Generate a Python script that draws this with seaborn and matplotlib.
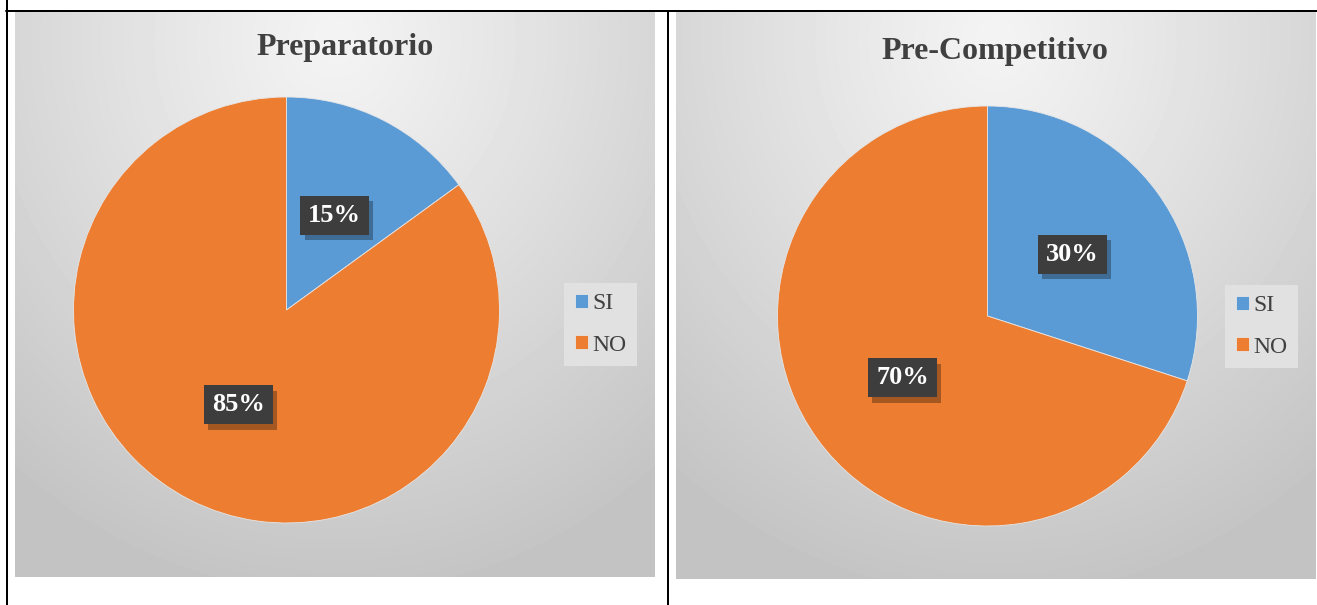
import numpy as np
import matplotlib
matplotlib.use("Agg")
import matplotlib.pyplot as plt
import seaborn as sns
from matplotlib import patheffects
from matplotlib.lines import Line2D

# Data
categories = ["SI", "NO"]
preparatorio = [15, 85]
pre_competitivo = [30, 70]
panel_titles = ["Preparatorio", "Pre-Competitivo"]

sns.set_theme(style="white")
plt.rcParams["font.family"] = ["Liberation Serif", "DejaVu Serif"]
colors = sns.color_palette(["#5B9BD5", "#ED7D31"])

W, H = 1317, 605
fig = plt.figure(figsize=(W / 100, H / 100), dpi=100)
fig.patch.set_facecolor("white")


def px_axes(x0, y0, x1, y1, **kw):
    """Axes placed by pixel box (origin at top-left of the figure)."""
    return fig.add_axes([x0 / W, 1 - y1 / H, (x1 - x0) / W, (y1 - y0) / H], **kw)


def fig_xy(x, y):
    return x / W, 1 - y / H


def gradient(w, h):
    yy, xx = np.mgrid[0:1:h * 1j, 0:1:w * 1j]
    t = np.sqrt(((xx - 0.5) / 0.8) ** 2 + ((yy - 0.05) / 1.0) ** 2)
    t = np.clip(t, 0, 1) ** 1.1
    light, dark = 0.955, 0.765
    return light + (dark - light) * t


panels = [
    dict(box=(15, 12, 655, 577), center=(286.5, 310), r=213,
         title_xy=(345, 47), legend_xy=(600.5, 324.5),
         values=preparatorio, title=panel_titles[0]),
    dict(box=(676, 12, 1316, 579), center=(987.5, 316), r=210,
         title_xy=(995, 51), legend_xy=(1261.5, 326.5),
         values=pre_competitivo, title=panel_titles[1]),
]

for p in panels:
    x0, y0, x1, y1 = p["box"]
    bg = px_axes(x0, y0, x1, y1)
    bg.imshow(gradient(x1 - x0, y1 - y0), cmap="gray", vmin=0, vmax=1,
              extent=(0, 1, 0, 1), aspect="auto", interpolation="bilinear")
    bg.set_axis_off()

    # chart title
    tx, ty = fig_xy(*p["title_xy"])
    fig.text(tx, ty, p["title"], ha="center", va="center",
             fontsize=23, fontweight="bold", color="#404040")

    cx, cy = p["center"]
    r = p["r"]
    ax = px_axes(cx - r, cy - r, cx + r, cy + r)
    wedges, texts, autotexts = ax.pie(
        p["values"], colors=colors, startangle=90, counterclock=False,
        autopct="%.0f%%", pctdistance=0.5,
        wedgeprops=dict(linewidth=0.6, edgecolor="#e6e6e6"),
    )
    ax.set_xlim(-1, 1)
    ax.set_ylim(-1, 1)
    ax.set_axis_off()

    for at in autotexts:
        at.set_fontsize(19)
        at.set_fontweight("bold")
        at.set_color("white")
        at.set_bbox(dict(boxstyle="square,pad=0.3", facecolor="#3d3d3d",
                         edgecolor="none"))
        at.get_bbox_patch().set_path_effects([
            patheffects.SimplePatchShadow(offset=(3, -4), shadow_rgbFace="black",
                                          alpha=0.3),
            patheffects.Normal(),
        ])

    lx, ly = fig_xy(*p["legend_xy"])
    leg = fig.legend(wedges, categories, loc="center", bbox_to_anchor=(lx, ly),
                     frameon=True, fancybox=False, framealpha=1,
                     facecolor="#e1e1e1", edgecolor="none", fontsize=17,
                     handlelength=0.55, handleheight=0.55, handletextpad=0.2,
                     labelspacing=0.85, borderpad=0.45)
    leg.get_frame().set_linewidth(0)
    for t in leg.get_texts():
        t.set_color("#404040")

# table rules around the two charts
lw = 2 * 72 / 100
fig.add_artist(Line2D([7 / W, 7 / W], [0, 1], color="black", lw=lw))
fig.add_artist(Line2D([6 / W, 1], [1 - 11 / H, 1 - 11 / H], color="black", lw=lw))
fig.add_artist(Line2D([668 / W, 668 / W], [0, 1 - 11 / H], color="black", lw=lw))

fig.savefig("out.png", dpi=100, facecolor="white")
